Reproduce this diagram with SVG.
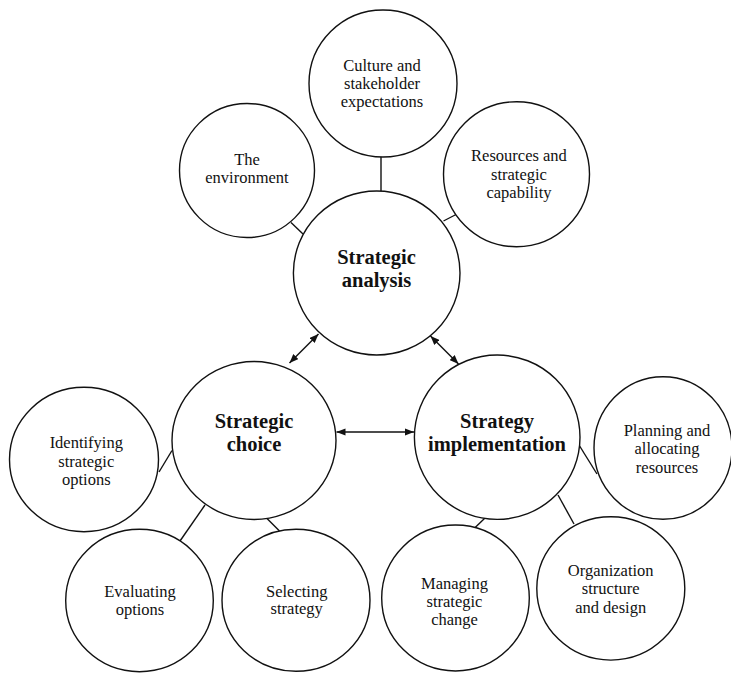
<svg xmlns="http://www.w3.org/2000/svg" width="731" height="673" viewBox="0 0 731 673">
<style>
.node{fill:#fff;stroke:#111;stroke-width:1.4}
.lbl{font-family:"Liberation Serif","Times New Roman",serif;font-size:16.5px;fill:#111;text-anchor:middle}
.big{font-family:"Liberation Serif","Times New Roman",serif;font-size:20.5px;font-weight:bold;fill:#111;text-anchor:middle}
.con{stroke:#111;stroke-width:1.4;fill:none}
</style>
<defs>
<marker id="ah" viewBox="0 0 10 8" refX="10" refY="4" markerWidth="9" markerHeight="7.2" markerUnits="userSpaceOnUse" orient="auto-start-reverse">
<path d="M0,0 L10,4 L0,8 z" fill="#111"/>
</marker>
</defs>
<rect width="731" height="673" fill="#fff"/>
<g id="connectors">
<line class="con" x1="381" y1="157" x2="381" y2="191"/>
<line class="con" x1="291" y1="222.5" x2="303" y2="234"/>
<line class="con" x1="443.5" y1="221" x2="457" y2="214"/>
<line class="con" x1="159" y1="472" x2="172" y2="450.5"/>
<line class="con" x1="205" y1="505" x2="180" y2="541"/>
<line class="con" x1="266.5" y1="518" x2="279.5" y2="531"/>
<line class="con" x1="579" y1="445" x2="597" y2="474"/>
<line class="con" x1="484.5" y1="518.5" x2="471.5" y2="531"/>
<line class="con" x1="558" y1="495" x2="574" y2="524"/>
<line class="con" x1="318.5" y1="334" x2="289.5" y2="363" marker-start="url(#ah)" marker-end="url(#ah)"/>
<line class="con" x1="430.5" y1="336" x2="458.5" y2="364" marker-start="url(#ah)" marker-end="url(#ah)"/>
<line class="con" x1="336.5" y1="432" x2="414" y2="432" marker-start="url(#ah)" marker-end="url(#ah)"/>
</g>
<g id="culture">
<ellipse class="node" cx="383" cy="83.5" rx="74" ry="73.5"/>
<text class="lbl" x="382" y="70.5">Culture and</text>
<text class="lbl" x="382" y="88.8">stakeholder</text>
<text class="lbl" x="382" y="107">expectations</text>
</g>
<g id="environment">
<ellipse class="node" cx="247" cy="170.5" rx="67.5" ry="67"/>
<text class="lbl" x="247" y="164.5">The</text>
<text class="lbl" x="247" y="183.3">environment</text>
</g>
<g id="resources">
<ellipse class="node" cx="516.5" cy="174.2" rx="73" ry="72.5"/>
<text class="lbl" x="519" y="161">Resources and</text>
<text class="lbl" x="519" y="179.5">strategic</text>
<text class="lbl" x="519" y="198">capability</text>
</g>
<g id="analysis">
<ellipse class="node" cx="376.7" cy="273" rx="83.3" ry="82"/>
<text class="big" x="376.5" y="264">Strategic</text>
<text class="big" x="376.5" y="287.3">analysis</text>
</g>
<g id="choice">
<ellipse class="node" cx="254" cy="440.5" rx="82" ry="79"/>
<text class="big" x="254" y="428">Strategic</text>
<text class="big" x="254" y="450.7">choice</text>
</g>
<g id="implementation">
<ellipse class="node" cx="497.2" cy="437.2" rx="82.8" ry="82.2"/>
<text class="big" x="497" y="428.3">Strategy</text>
<text class="big" x="497" y="450.7">implementation</text>
</g>
<g id="identifying">
<ellipse class="node" cx="84" cy="459.5" rx="74.5" ry="72.2"/>
<text class="lbl" x="86.3" y="448.3">Identifying</text>
<text class="lbl" x="86.3" y="466.5">strategic</text>
<text class="lbl" x="86.3" y="484.5">options</text>
</g>
<g id="evaluating">
<ellipse class="node" cx="139.5" cy="600.5" rx="73.8" ry="71.2"/>
<text class="lbl" x="140" y="596.7">Evaluating</text>
<text class="lbl" x="140" y="615">options</text>
</g>
<g id="selecting">
<ellipse class="node" cx="296" cy="600.2" rx="74" ry="71"/>
<text class="lbl" x="296.7" y="596.7">Selecting</text>
<text class="lbl" x="296.7" y="614">strategy</text>
</g>
<g id="planning">
<ellipse class="node" cx="663" cy="448" rx="69" ry="71.3"/>
<text class="lbl" x="667" y="436">Planning and</text>
<text class="lbl" x="667" y="454.3">allocating</text>
<text class="lbl" x="667" y="472.7">resources</text>
</g>
<g id="managing">
<ellipse class="node" cx="455.5" cy="598" rx="73.8" ry="73"/>
<text class="lbl" x="454.5" y="589.3">Managing</text>
<text class="lbl" x="454.5" y="607.3">strategic</text>
<text class="lbl" x="454.5" y="625">change</text>
</g>
<g id="organization">
<ellipse class="node" cx="610.8" cy="588.4" rx="74" ry="71.7"/>
<text class="lbl" x="610.7" y="576">Organization</text>
<text class="lbl" x="610.7" y="594.3">structure</text>
<text class="lbl" x="610.7" y="612.7">and design</text>
</g>
</svg>
